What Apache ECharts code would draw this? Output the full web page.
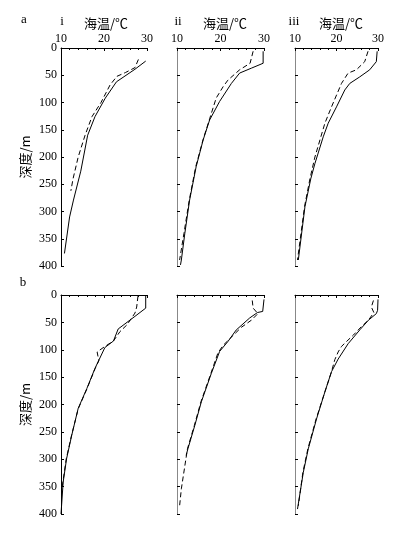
<!DOCTYPE html>
<html>
<head>
<meta charset="utf-8">
<script src="https://cdn.jsdelivr.net/npm/echarts@6/dist/echarts.min.js"></script>
<style>
html, body { margin: 0; padding: 0; background: #fff; }
#main { width: 398px; height: 534px; }
</style>
</head>
<body>
<div id="main"></div>
<script>
// each point: [海温 ℃, 深度 m]
var aISolid  = [[29.7,24],[27.2,39],[22.9,62],[20.3,92],[17.9,126],[16.2,160],[14.6,226],[12.9,279],[12.0,310],[10.8,377]];
var aIDashed = [[28.0,21],[27.2,36],[25.0,45],[23.0,52],[21.4,68],[19.3,100],[17.2,126],[15.6,160],[14.0,200],[12.8,240],[12.3,262]];
var aIISolid  = [[29.8,6],[29.8,28],[27.1,37],[24.4,46],[22.5,65],[19.8,98],[17.5,132],[16.0,169],[14.4,218],[12.9,279],[11.8,340],[11.0,389],[10.8,398]];
var aIIDashed = [[27.5,6],[26.8,28],[24.4,40],[21.7,59],[20.6,71],[19.0,92],[17.5,130],[16.0,168],[14.3,218],[12.8,280],[11.6,340],[10.6,389]];
var aIIISolid  = [[29.8,6],[29.6,25],[28.0,40],[25.6,53],[23.2,65],[22.0,77],[20.0,108],[18.0,138],[16.8,163],[14.8,212],[13.8,240],[12.4,291],[10.8,389]];
var aIIIDashed = [[27.6,6],[26.8,25],[24.8,40],[22.8,46],[21.2,65],[18.8,108],[17.2,138],[14.8,200],[13.6,240],[12.3,291],[10.6,389]];

var bISolid  = [[29.7,0],[29.7,24],[27.2,39],[23.3,62],[22.2,84],[20.2,96],[17.9,134],[16.0,171],[14.0,207],[12.5,256],[11.3,299],[10.5,342],[10.0,400]];
var bIDashed = [[27.9,2],[27.6,22],[27.2,33],[25.4,54],[23.7,67],[22.2,84],[20.2,94],[18.4,104],[18.8,120],[17.9,135],[16.0,172],[14.0,208],[12.4,258],[11.2,300],[10.2,355]];
var bIISolid  = [[30.0,8],[29.7,30],[28.5,32],[26.7,42],[23.6,64],[21.7,85],[19.8,103],[17.9,143],[15.6,195],[14.1,238],[12.5,281],[12.1,293]];
var bIIDashed = [[27.3,10],[27.5,24],[28.6,34],[27.1,46],[24.8,59],[22.5,77],[20.6,92],[19.4,106],[17.8,143],[15.5,195],[14.0,238],[12.4,281],[11.0,354],[10.6,385]];
var bIIISolid  = [[30.0,8],[29.9,28],[29.6,34],[27.7,46],[25.7,63],[22.8,89],[20.4,117],[18.8,140],[17.2,177],[15.2,226],[13.2,281],[12.0,324],[10.6,391]];
var bIIIDashed = [[28.9,10],[28.4,22],[29.0,32],[27.7,46],[26.1,57],[24.1,73],[22.4,85],[21.2,94],[20.4,104],[19.6,118],[18.8,140],[17.2,177],[15.1,226],[13.1,281],[11.9,324],[10.8,385]];

var rowNames = ['a', 'b'];
var colNames = ['i', 'ii', 'iii'];
var tempMin = 10, tempMax = 30, tempStep = 10;
var depthMin = 0, depthMax = 400, depthStep = 50;
var xName = '海温/℃';
var yName = '深度/m';

var panelData = [
    [[aISolid, aIDashed], [aIISolid, aIIDashed], [aIIISolid, aIIIDashed]],
    [[bISolid, bIDashed], [bIISolid, bIIDashed], [bIIISolid, bIIIDashed]]
];

var serif = 'Liberation Serif';
var cjk = 'Noto Sans CJK SC';
var rowTop = [48, 295], rowHeight = [218, 219];
var colLeft = [61, 177, 295], colWidth = [86, 87, 83];

var grids = [], xAxes = [], yAxes = [], series = [];
for (var r = 0; r < 2; r++) {
    for (var c = 0; c < 3; c++) {
        var idx = r * 3 + c;
        grids.push({left: colLeft[c], top: rowTop[r], width: colWidth[c], height: rowHeight[r]});
        xAxes.push({
            type: 'value', gridIndex: idx, position: 'top',
            min: tempMin, max: tempMax, interval: tempStep,
            axisLine: {show: true, onZero: false, lineStyle: {color: '#000', width: 1}},
            axisTick: {show: true, inside: true, length: 3, lineStyle: {color: '#000'}},
            minorTick: {show: true, splitNumber: 5, length: 2, lineStyle: {color: '#000'}},
            axisLabel: {show: r === 0, margin: 3, color: '#000', fontFamily: serif, fontSize: 12},
            splitLine: {show: false}
        });
        yAxes.push({
            type: 'value', gridIndex: idx, inverse: true,
            min: depthMin, max: depthMax, interval: depthStep,
            name: c === 0 ? yName : '',
            nameLocation: 'middle', nameGap: 29,
            nameTextStyle: {color: '#000', fontFamily: cjk, fontSize: 13},
            axisLine: {show: true, onZero: false, lineStyle: {color: c === 0 ? '#000' : '#888', width: 1}},
            axisTick: {show: true, inside: true, length: 3, lineStyle: {color: '#000'}},
            axisLabel: {show: c === 0, margin: 4, color: '#000', fontFamily: serif, fontSize: 12},
            splitLine: {show: false}
        });
        var pair = panelData[r][c];
        series.push({
            type: 'line', xAxisIndex: idx, yAxisIndex: idx, data: pair[0],
            symbol: 'none', silent: true, clip: false,
            lineStyle: {color: '#000', width: 1, type: 'solid'}
        });
        series.push({
            type: 'line', xAxisIndex: idx, yAxisIndex: idx, data: pair[1],
            symbol: 'none', silent: true, clip: false,
            lineStyle: {color: '#000', width: 1, type: [5, 3]}
        });
    }
}

function label(text, x, y, font, align) {
    return {
        type: 'text', x: x, y: y, silent: true,
        style: {text: text, font: font, fill: '#000', textAlign: align || 'center', textVerticalAlign: 'middle'}
    };
}

var graphics = [
    label(rowNames[0], 24, 20, '13px ' + serif),
    label(rowNames[1], 23, 283, '13px ' + serif),
    label(colNames[0], 62, 22, '13px ' + serif),
    label(colNames[1], 178, 22, '13px ' + serif),
    label(colNames[2], 294, 22, '13px ' + serif),
    label(xName, 106, 23, '13px "' + cjk + '"'),
    label(xName, 225, 23, '13px "' + cjk + '"'),
    label(xName, 341, 23, '13px "' + cjk + '"')
];

var myChart = echarts.init(document.getElementById('main'));
var option = {
    animation: false,
    backgroundColor: '#fff',
    grid: grids,
    xAxis: xAxes,
    yAxis: yAxes,
    series: series,
    graphic: graphics
};
myChart.setOption(option);
</script>
</body>
</html>
